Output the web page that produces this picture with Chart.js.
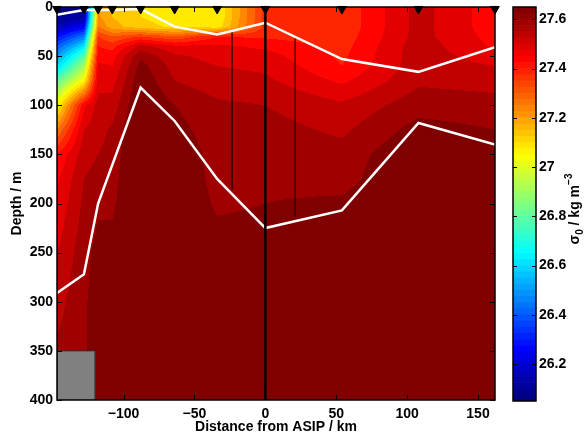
<!DOCTYPE html>
<html>
<head>
<meta charset="utf-8">
<script src="https://cdn.jsdelivr.net/npm/chart.js@4.4.1/dist/chart.umd.min.js"></script>
<style>
  html, body { margin: 0; padding: 0; background: #fff; }
  #wrap { position: relative; width: 584px; height: 441px; }
  #secao { position: absolute; left: 0; top: 0; }
  #barra { position: absolute; left: 500px; top: 0; }
</style>
</head>
<body>
<div id="wrap">
  <canvas id="secao" width="584" height="441"></canvas>
  <canvas id="barra" width="84" height="441"></canvas>
</div>
<script>
// estações (km a partir do ASIP) e profundidades da grade
const stationKm = [-147, -128, -118, -108, -88, -64, -34, 0, 54, 108, 162];
const depthLevels = [0, 10, 20, 30, 40, 50, 60, 75, 100, 125, 150, 175, 200, 250, 300, 350, 400];

// sigma-0 por estação (uma linha por estação, valores por profundidade)
const sigma0 = [
    [26.06, 26.10, 26.16, 26.28, 26.40, 26.50, 26.60, 26.80, 27.05, 27.25, 27.40, 27.44, 27.46, 27.50, 27.53, 27.56, 27.58],
    [26.10, 26.12, 26.25, 26.45, 26.62, 26.78, 26.90, 27.05, 27.44, 27.50, 27.53, 27.55, 27.56, 27.58, 27.59, 27.59, 27.59],
    [27.20, 27.21, 27.25, 27.35, 27.40, 27.43, 27.46, 27.48, 27.52, 27.53, 27.55, 27.57, 27.59, 27.62, 27.63, 27.64, 27.65],
    [27.15, 27.15, 27.17, 27.30, 27.38, 27.43, 27.45, 27.48, 27.52, 27.56, 27.57, 27.58, 27.59, 27.62, 27.64, 27.65, 27.65],
    [27.10, 27.10, 27.12, 27.35, 27.52, 27.59, 27.62, 27.64, 27.66, 27.67, 27.67, 27.67, 27.67, 27.67, 27.67, 27.67, 27.67],
    [27.07, 27.07, 27.09, 27.30, 27.46, 27.51, 27.53, 27.55, 27.60, 27.62, 27.64, 27.65, 27.66, 27.66, 27.66, 27.66, 27.66],
    [27.05, 27.05, 27.07, 27.40, 27.46, 27.48, 27.50, 27.52, 27.56, 27.57, 27.58, 27.58, 27.59, 27.63, 27.65, 27.66, 27.66],
    [27.37, 27.37, 27.37, 27.39, 27.44, 27.47, 27.49, 27.51, 27.55, 27.57, 27.58, 27.59, 27.60, 27.63, 27.65, 27.66, 27.66],
    [27.36, 27.36, 27.36, 27.37, 27.38, 27.39, 27.40, 27.44, 27.51, 27.54, 27.57, 27.58, 27.61, 27.65, 27.66, 27.66, 27.66],
    [27.52, 27.52, 27.52, 27.52, 27.53, 27.53, 27.53, 27.54, 27.58, 27.62, 27.65, 27.66, 27.66, 27.66, 27.66, 27.66, 27.66],
    [27.42, 27.42, 27.42, 27.43, 27.44, 27.47, 27.50, 27.53, 27.57, 27.60, 27.63, 27.64, 27.65, 27.66, 27.66, 27.66, 27.66]
];

// linhas brancas
const upperLineKm = [-147, -128, -118, -108, -88, -64, -34, 0, 54, 108, 162];
const upperLineDepth = [8, 3, 3, 3, 2, 20, 28, 16, 53, 66, 41];
const lowerLineKm = [-147, -128, -118, -88, -64, -34, 0, 54, 108, 162];
const lowerLineDepth = [291, 272, 200, 82, 116, 175, 225, 207, 118, 140];

// linhas verticais finas (km, topo, base)
const thinLinesKm = [-23.5, 21];
const thinLinesTop = [26, 32];
const thinLinesBottom = [186, 213];

// bloco cinza (fundo)
const bottomBlockKm = [-147, -120];
const bottomBlockDepth = [350, 400];

const xTicks = [-100, -50, 0, 50, 100, 150];
const yTicks = [0, 50, 100, 150, 200, 250, 300, 350, 400];
const cbTicks = [26.2, 26.4, 26.6, 26.8, 27, 27.2, 27.4, 27.6];

const sigmaMin = 26.05;
const sigmaMax = 27.65;
const passo = 0.05;

const fonte = { family: "'Liberation Sans', Arial, sans-serif", size: 14, weight: 'bold' };

function jet(t) {
    const c = (v) => Math.round(255 * Math.min(1, Math.max(0, v)));
    return [c(1.5 - Math.abs(4 * t - 3)), c(1.5 - Math.abs(4 * t - 2)), c(1.5 - Math.abs(4 * t - 1))];
}

function localizar(arr, v) {
    if (v <= arr[0]) return [0, 0];
    for (let i = 0; i < arr.length - 1; i++) {
        if (v <= arr[i + 1]) return [i, (v - arr[i]) / (arr[i + 1] - arr[i])];
    }
    return [arr.length - 2, 1];
}

const campoPlugin = {
    id: "campo",
    beforeDatasetsDraw(chart) {
        const { ctx, chartArea: a, scales: { x, y } } = chart;
        const left = Math.round(a.left), top = Math.round(a.top);
        const w = Math.round(a.right) - left, h = Math.round(a.bottom) - top;
        const img = ctx.createImageData(w, h);
        const nBins = Math.round((sigmaMax - sigmaMin) / passo);
        const cols = [];
        for (let px = 0; px < w; px++) cols.push(localizar(stationKm, x.getValueForPixel(left + px + 0.5)));
        for (let py = 0; py < h; py++) {
            const [j, fy] = localizar(depthLevels, y.getValueForPixel(top + py + 0.5));
            for (let px = 0; px < w; px++) {
                const [i, fx] = cols[px];
                const v = (1 - fx) * ((1 - fy) * sigma0[i][j] + fy * sigma0[i][j + 1]) +
                          fx * ((1 - fy) * sigma0[i + 1][j] + fy * sigma0[i + 1][j + 1]);
                const k = Math.min(nBins - 1, Math.max(0, Math.floor((v - sigmaMin) / passo + 1e-9)));
                const [r, g, b] = jet(k / (nBins - 1));
                const o = 4 * (py * w + px);
                img.data[o] = r;
                img.data[o + 1] = g;
                img.data[o + 2] = b;
                img.data[o + 3] = 255;
            }
        }
        ctx.putImageData(img, left, top);
    }
};

const molduraPlugin = {
    id: "moldura",
    afterDatasetsDraw(chart) {
        const { ctx, chartArea: a, scales: { x, y } } = chart;
        ctx.save();
        ctx.strokeStyle = "#000";
        ctx.lineWidth = 1;
        ctx.beginPath();
        xTicks.forEach((v) => {
            const px = Math.round(x.getPixelForValue(v)) + 0.5;
            ctx.moveTo(px, a.bottom); ctx.lineTo(px, a.bottom - 5);
            ctx.moveTo(px, a.top); ctx.lineTo(px, a.top + 5);
        });
        yTicks.forEach((v) => {
            const py = Math.round(y.getPixelForValue(v)) + 0.5;
            ctx.moveTo(a.left, py); ctx.lineTo(a.left + 5, py);
            ctx.moveTo(a.right, py); ctx.lineTo(a.right - 5, py);
        });
        ctx.stroke();
        ctx.lineWidth = 1.5;
        ctx.strokeRect(a.left, a.top, a.right - a.left, a.bottom - a.top);
        ctx.restore();
    }
};

const pares = (xs, ys) => xs.map((v, i) => ({ x: v, y: ys[i] }));

const datasets = [
    {
        label: "estações",
        type: "scatter",
        data: stationKm.map((v) => ({ x: v, y: 2 })),
        pointStyle: "triangle",
        rotation: 180,
        pointRadius: 5,
        backgroundColor: "#000",
        borderColor: "#000",
        borderWidth: 1,
        clip: false
    },
    {
        label: "ASIP",
        data: [{ x: 0, y: 0 }, { x: 0, y: 400 }],
        borderColor: "#000",
        borderWidth: 2.5,
        pointRadius: 0
    },
    ...thinLinesKm.map((v, i) => ({
        label: "fina" + i,
        data: [{ x: v, y: thinLinesTop[i] }, { x: v, y: thinLinesBottom[i] }],
        borderColor: "#1a0000",
        borderWidth: 1.2,
        pointRadius: 0
    })),
    {
        label: "superior",
        data: pares(upperLineKm, upperLineDepth),
        borderColor: "#fff",
        borderWidth: 2.5,
        pointRadius: 0
    },
    {
        label: "inferior",
        data: pares(lowerLineKm, lowerLineDepth),
        borderColor: "#fff",
        borderWidth: 2.5,
        pointRadius: 0
    },
    {
        label: "fundo",
        data: [
            { x: bottomBlockKm[0], y: bottomBlockDepth[1] },
            { x: bottomBlockKm[0], y: bottomBlockDepth[0] },
            { x: bottomBlockKm[1], y: bottomBlockDepth[0] },
            { x: bottomBlockKm[1], y: bottomBlockDepth[1] }
        ],
        borderColor: "#333",
        borderWidth: 1,
        backgroundColor: "#808080",
        fill: { value: bottomBlockDepth[1] },
        pointRadius: 0
    }
];

new Chart(document.getElementById("secao"), {
    type: "line",
    data: { datasets },
    options: {
        responsive: false,
        animation: false,
        devicePixelRatio: 1,
        layout: { padding: { left: 0, right: 89, top: 7, bottom: 0 } },
        elements: { line: { tension: 0 } },
        plugins: { legend: { display: false }, tooltip: { enabled: false } },
        scales: {
            x: {
                type: "linear",
                min: -147,
                max: 162,
                afterBuildTicks: (s) => { s.ticks = xTicks.map((v) => ({ value: v })); },
                afterFit: (s) => { s.height = 41; s.paddingLeft = 0; s.paddingRight = 0; },
                grid: { display: false, drawTicks: false },
                border: { display: false },
                ticks: {
                    padding: 6,
                    color: "#000",
                    font: fonte,
                    maxRotation: 0,
                    autoSkip: false,
                    callback: (v) => String(v).replace("-", "\u2212")
                },
                title: { display: true, text: "Distance from ASIP / km", color: "#000", font: fonte, padding: { top: 0, bottom: 5 } }
            },
            y: {
                type: "linear",
                reverse: true,
                min: 0,
                max: 400,
                afterBuildTicks: (s) => { s.ticks = yTicks.map((v) => ({ value: v })); },
                afterFit: (s) => { s.width = 57; s.paddingTop = 0; s.paddingBottom = 0; },
                grid: { display: false, drawTicks: false },
                border: { display: false },
                ticks: { padding: 4, color: "#000", font: fonte, autoSkip: false },
                title: { display: true, text: "Depth / m", color: "#000", font: fonte, padding: { top: 9, bottom: 0 } }
            }
        }
    },
    plugins: [campoPlugin, molduraPlugin]
});

// barra de cores
const nBandas = 64;
const larguraBanda = (sigmaMax - sigmaMin) / nBandas;
const bandas = [];
for (let k = 0; k < nBandas; k++) {
    const [r, g, b] = jet(k / (nBandas - 1));
    bandas.push({
        data: [[sigmaMin + k * larguraBanda, sigmaMin + (k + 1) * larguraBanda]],
        backgroundColor: `rgb(${r},${g},${b})`,
        borderWidth: 0
    });
}

const barraPlugin = {
    id: "barraMoldura",
    afterDatasetsDraw(chart) {
        const { ctx, chartArea: a, scales: { y } } = chart;
        ctx.save();
        ctx.strokeStyle = "#000";
        ctx.lineWidth = 1;
        ctx.beginPath();
        cbTicks.forEach((v) => {
            const py = Math.round(y.getPixelForValue(v)) + 0.5;
            ctx.moveTo(a.left, py); ctx.lineTo(a.left + 4, py);
            ctx.moveTo(a.right, py); ctx.lineTo(a.right - 4, py);
        });
        ctx.stroke();
        ctx.lineWidth = 1.5;
        ctx.strokeRect(a.left, a.top, a.right - a.left, a.bottom - a.top);

        // título: sigma_0 / kg m^-3
        const partes = [
            { t: "\u03c3", f: "bold 14px 'Liberation Sans', Arial, sans-serif", dy: 0 },
            { t: "0", f: "bold 10px 'Liberation Sans', Arial, sans-serif", dy: 5 },
            { t: " / kg m", f: "bold 14px 'Liberation Sans', Arial, sans-serif", dy: 0 },
            { t: "\u22123", f: "bold 10px 'Liberation Sans', Arial, sans-serif", dy: -6 }
        ];
        ctx.translate(75, 209);
        ctx.rotate(-Math.PI / 2);
        ctx.fillStyle = "#000";
        ctx.textBaseline = "middle";
        ctx.textAlign = "left";
        let total = 0;
        partes.forEach((p) => { ctx.font = p.f; p.w = ctx.measureText(p.t).width; total += p.w; });
        let cx = -total / 2;
        partes.forEach((p) => { ctx.font = p.f; ctx.fillText(p.t, cx, p.dy); cx += p.w; });
        ctx.restore();
    }
};

new Chart(document.getElementById("barra"), {
    type: "bar",
    data: { labels: [""], datasets: bandas },
    options: {
        responsive: false,
        animation: false,
        devicePixelRatio: 1,
        layout: { padding: { left: 13, right: 0, top: 7, bottom: 40 } },
        datasets: { bar: { grouped: false, barPercentage: 1, categoryPercentage: 1 } },
        plugins: { legend: { display: false }, tooltip: { enabled: false } },
        scales: {
            x: { display: false },
            y: {
                position: "right",
                min: sigmaMin,
                max: sigmaMax,
                afterBuildTicks: (s) => { s.ticks = cbTicks.map((v) => ({ value: v })); },
                afterFit: (s) => { s.width = 48; s.paddingTop = 0; s.paddingBottom = 0; },
                grid: { display: false, drawTicks: false },
                border: { display: false },
                ticks: {
                    padding: 3,
                    color: "#000",
                    font: fonte,
                    autoSkip: false,
                    callback: (v) => String(Number(v.toFixed(1)))
                }
            }
        }
    },
    plugins: [barraPlugin]
});
</script>
</body>
</html>
